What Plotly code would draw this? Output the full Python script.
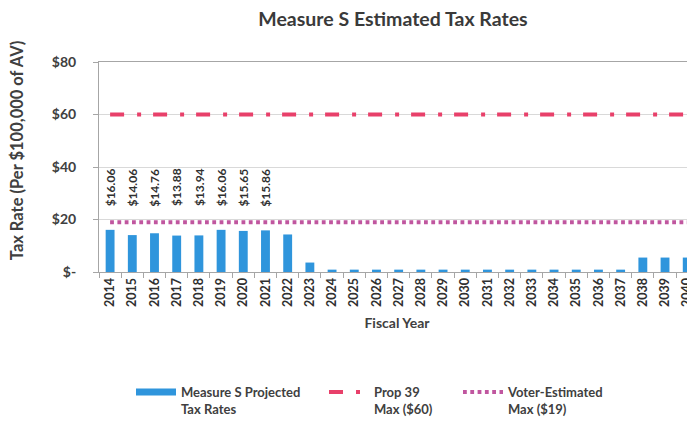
import plotly.graph_objects as go

years = [str(y) for y in range(2014, 2041)]
measure_s = [16.06, 14.06, 14.76, 13.88, 13.94, 16.06, 15.65, 15.86, 14.3, 3.6,
             0.9, 0.9, 0.9, 0.9, 0.9, 0.9, 0.9, 0.9, 0.9, 0.9, 0.9, 0.9, 0.9, 0.9,
             5.5, 5.5, 5.5]
labeled_years = years[:8]
prop39_max = [60] * len(years)
voter_max = [19] * len(years)
ytick_vals = [0, 20, 40, 60, 80]
ytick_text = ["$-", "$20", "$40", "$60", "$80"]

FONT = "Lato"
TXT = "#404040"
BLUE = "#2f95dc"
LABEL_LEVEL = 24.3
PAGE_OFF = 8          # default body margin of the html page
W, H = 695 - PAGE_OFF, 422 - PAGE_OFF
L, T, B = 99 - PAGE_OFF, 62 - PAGE_OFF, 150
PW = W - L

fig = go.Figure()
fig.add_trace(go.Bar(
    x=years, y=measure_s, name="Measure S Projected<br>Tax Rates",
    marker=dict(color=BLUE, line=dict(width=0)), showlegend=False,
    legendgroup="s",
))
fig.add_trace(go.Scatter(
    x=[None], y=[None], name="<b>Measure S Projected</b><br><b>Tax Rates</b>", mode="lines",
    line=dict(color=BLUE, width=7), legendgroup="s", legend="legend",
))
fig.add_trace(go.Scatter(
    x=years, y=prop39_max, name="<b>Prop 39</b><br><b>Max ($60)</b>", mode="lines",
    line=dict(color="#e8406a", width=4, dash="14px,13px,4px,12px"), legend="legend2",
))
fig.add_trace(go.Scatter(
    x=years, y=voter_max, name="<b>Voter-Estimated</b><br><b>Max ($19)</b>", mode="lines",
    line=dict(color="#c0569f", width=4, dash="3.8px,3.5px"), legend="legend3",
))

for i, (yr, v) in enumerate(zip(years, measure_s)):
    if yr in labeled_years:
        fig.add_annotation(
            x=i, y=LABEL_LEVEL, text=f"<b>${v:.2f}</b>", textangle=-90,
            showarrow=False, xanchor="center", yanchor="bottom",
            font=dict(family=FONT, size=12, color="#303030"),
        )

fig.add_annotation(
    xref="paper", yref="paper", x=(17 - 99) / PW, y=0.58, xanchor="center", yanchor="middle",
    text="<b>Tax Rate (Per $100,000 of AV)</b>", textangle=-90, showarrow=False,
    font=dict(family=FONT, size=16.5, color=TXT),
)

leg_common = dict(orientation="h", yanchor="top", valign="top",
                  font=dict(family=FONT, size=13, color=TXT),
                  bgcolor="rgba(0,0,0,0)", itemwidth=40)
LEG_Y = -0.50

fig.update_layout(
    width=W, height=H,
    margin=dict(l=L, r=0, t=T, b=B, autoexpand=False),
    paper_bgcolor="white", plot_bgcolor="white",
    title=dict(text="<b>Measure S Estimated Tax Rates</b>", x=(393 - PAGE_OFF) / W, xanchor="center",
               y=1 - (19 - PAGE_OFF) / H, yanchor="middle",
               font=dict(family=FONT, size=19.5, color="#3a3a3a")),
    bargap=0.6,
    showlegend=True,
    legend=dict(x=(131 - 99) / PW, y=LEG_Y, **leg_common),
    legend2=dict(x=(324 - 99) / PW, y=LEG_Y, **leg_common),
    legend3=dict(x=(458 - 99) / PW, y=LEG_Y, **leg_common),
    xaxis=dict(
        type="category", range=[-0.5, 26.35], automargin=False,
        tickangle=-90, tickfont=dict(family=FONT, size=12.5, color="#303030"),
        ticks="outside", ticklen=5, tickcolor="#a6a6a6", tickson="boundaries",
        showline=True, linecolor="#a6a6a6", linewidth=1, mirror=True,
        showgrid=False, tickprefix="<b>", ticksuffix="</b>",
        title=dict(text="<b>Fiscal Year</b>", font=dict(family=FONT, size=14, color=TXT),
                   standoff=12),
    ),
    yaxis=dict(
        range=[0, 80], tickvals=ytick_vals, ticktext=[f"<b>{t}</b>" for t in ytick_text],
        automargin=False,
        tickfont=dict(family=FONT, size=14, color=TXT),
        ticks="outside", ticklen=5, tickcolor="#a6a6a6",
        ticklabelstandoff=14,
        showline=True, linecolor="#a6a6a6", linewidth=1,
        showgrid=True, gridcolor="#d9d9d9", zeroline=False,
    ),
)

fig.write_html("out.html")
